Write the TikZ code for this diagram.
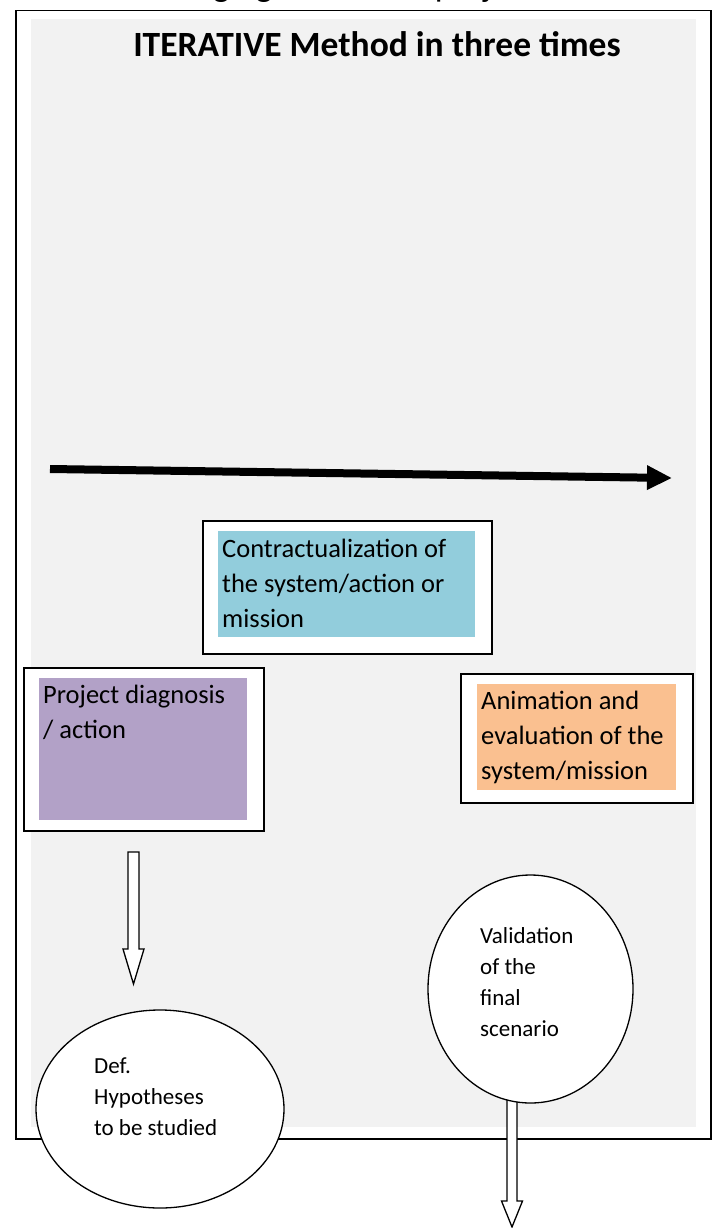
\documentclass[tikz,border=0pt]{standalone}
\usepackage{fontspec}
\setmainfont{Carlito}
\usetikzlibrary{arrows.meta,shapes.geometric}
\definecolor{bggray}{HTML}{F2F2F2}
\definecolor{cyanfill}{HTML}{92CDDC}
\definecolor{purplefill}{HTML}{B2A1C7}
\definecolor{orangefill}{HTML}{FAC090}
\tikzset{
  framebox/.style={draw, line width=1.5pt, fill=white, inner sep=0pt, anchor=north west},
  fillbox/.style={inner sep=0pt, anchor=north west},
  boxtext/.style={font=\fontsize{26.5}{35}\selectfont, align=left, inner sep=0pt, anchor=base west},
  ovaltext/.style={font=\fontsize{23}{31}\selectfont, align=left, inner sep=0pt, anchor=base west},
  oval/.style={draw, ellipse, line width=1.3pt, fill=white, inner sep=0pt},
  hollow/.style={draw, line width=1.3pt, fill=white, line join=miter},
  bigarrow/.style={line width=8pt, -{Triangle[length=25pt,width=23pt]}}
}
\begin{document}
\begin{tikzpicture}[x=1pt,y=-1pt]
\useasboundingbox (0,0) rectangle (715,1228);
% clipped caption at the very top
\begin{scope}
  \clip (0,0) rectangle (715,1228);
  \node[anchor=base west, inner sep=0pt, font=\fontsize{35}{40}\selectfont] (caption) at (131,-3) {Managing a research project};
\end{scope}
% outer frame and grey panel
\node[framebox, minimum width=695pt, minimum height=1128pt] (frame) at (15,10) {};
\node[fillbox, fill=bggray, minimum width=665pt, minimum height=1108pt] (panel) at (31,19) {};
% title
\node[anchor=base, inner sep=0pt, font=\fontsize{35.5}{40}\selectfont\bfseries] (title) at (377,57) {ITERATIVE Method in three times};
% time arrow
\coordinate (tstart) at (50,469);
\coordinate (tend) at (672,478);
\draw[bigarrow] (tstart) -- (tend);
% contract box
\node[framebox, minimum width=289pt, minimum height=133pt] (contractF) at (202,520) {};
\node[fillbox, fill=cyanfill, minimum width=257pt, minimum height=106pt] (contract) at (218,531) {};
\node[boxtext] (contractT) at (222,627) {Contractualization of\\the system/action or\\mission};
% project box
\node[framebox, minimum width=240pt, minimum height=163pt] (projectF) at (23,667) {};
\node[fillbox, fill=purplefill, minimum width=208pt, minimum height=142pt] (project) at (39,678) {};
\node[boxtext] (projectT) at (43,738) {Project diagnosis\\/ action};
% animation box
\node[framebox, minimum width=232pt, minimum height=129pt] (animF) at (460,673) {};
\node[fillbox, fill=orangefill, minimum width=199pt, minimum height=106pt] (anim) at (477,684) {};
\node[boxtext] (animT) at (481,779) {Animation and\\evaluation of the\\system/mission};
% hollow arrow 1
\coordinate (a1) at (133.5,852);
\draw[hollow, shift={(a1)}] (-5.5,0) -- (5.5,0) -- (5.5,97) -- (10.5,97) -- (0,132) -- (-10.5,97) -- (-5.5,97) -- cycle;
% Def. ellipse
\node[oval, minimum width=248pt, minimum height=198pt] (def) at (160,1109) {};
\node[ovaltext] (defT) at (94,1135) {Def.\\Hypotheses\\to be studied};
% hollow arrow 2
\coordinate (a2) at (512,1095);
\draw[hollow, shift={(a2)}] (-5,0) -- (5,0) -- (5,106) -- (10.5,106) -- (0,132) -- (-10.5,106) -- (-5,106) -- cycle;
% Validation ellipse
\node[oval, minimum width=205pt, minimum height=228pt] (valid) at (530.5,989) {};
\node[ovaltext] (validT) at (480,1036) {Validation\\of the\\final\\scenario};
\end{tikzpicture}
\end{document}
